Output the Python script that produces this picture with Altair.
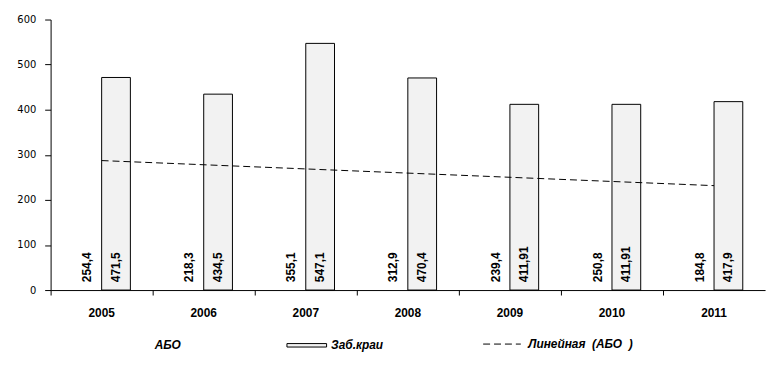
import altair as alt
import pandas as pd

years = [2005, 2006, 2007, 2008, 2009, 2010, 2011]
abo = [254.4, 218.3, 355.1, 312.9, 239.4, 250.8, 184.8]
zab = [471.5, 434.5, 547.1, 470.4, 411.91, 411.91, 417.9]
abo_labels = ["254,4", "218,3", "355,1", "312,9", "239,4", "250,8", "184,8"]
zab_labels = ["471,5", "434,5", "547,1", "470,4", "411,91", "411,91", "417,9"]
series = ["АБО", "Заб.краи"]
trend_name = "Линейная\u00a0 (АБО\u00a0 )"
y_ticks = [0, 100, 200, 300, 400, 500, 600]

rows = []
for i, yr in enumerate(years):
    rows.append({"year": yr, "series": series[0], "value": abo[i], "label": abo_labels[i]})
    rows.append({"year": yr, "series": series[1], "value": zab[i], "label": zab_labels[i]})
df = pd.DataFrame(rows)

x_enc = alt.X(
    "year:O",
    scale=alt.Scale(domain=years, paddingInner=0, paddingOuter=0),
    axis=alt.Axis(
        title=None, labelAngle=0, bandPosition=0, tickSize=5, labelPadding=13,
        labelFont="Liberation Sans", labelFontSize=12, labelFontWeight="bold",
        labelColor="black", domainColor="black", tickColor="black",
    ),
)
xoff = alt.XOffset("series:N", scale=alt.Scale(domain=series, paddingInner=0, paddingOuter=0.776))
y_enc = alt.Y(
    "value:Q",
    scale=alt.Scale(domain=[0, 600], nice=False),
    axis=alt.Axis(
        title=None, values=y_ticks, grid=False, tickSize=6, labelPadding=9,
        labelFont="DejaVu Sans", labelFontSize=10, labelColor="black",
        domainColor="black", tickColor="black",
    ),
)

leg = alt.Legend(
    title=None, orient="none", legendX=60, legendY=308, direction="horizontal",
    symbolType="M-1,-0.0875H1V0.0875H-1Z", symbolSize=1600, symbolStrokeWidth=1,
    labelOffset=4, columnPadding=104,
    labelFont="Liberation Sans", labelFontSize=12, labelFontStyle="italic",
    labelFontWeight="bold", labelColor="black",
)

bars = alt.Chart(df).mark_bar(strokeWidth=1).encode(
    x=x_enc,
    xOffset=xoff,
    y=y_enc,
    fill=alt.Fill("series:N", scale=alt.Scale(domain=series, range=["white", "#f2f2f2"]), legend=leg),
    stroke=alt.Stroke("series:N", scale=alt.Scale(domain=series, range=["transparent", "black"]), legend=leg),
)

labels = alt.Chart(df).mark_text(
    angle=270, align="left", baseline="middle", dx=8,
    font="Liberation Sans", fontSize=12, fontWeight="bold", color="black",
).encode(
    x=x_enc,
    xOffset=xoff,
    y=alt.datum(0),
    text="label:N",
)

trend = alt.Chart(df).transform_filter(
    alt.datum.series == series[0]
).transform_regression(
    "year", "value"
).transform_calculate(
    trend=f"'{trend_name}'"
).mark_line(color="black", strokeWidth=1).encode(
    x=alt.X("year:O"),
    y=alt.Y("value:Q"),
    strokeDash=alt.StrokeDash(
        "trend:N",
        scale=alt.Scale(domain=[trend_name], range=[[7, 4]]),
        legend=alt.Legend(
            title=None, orient="none", legendX=436, legendY=308,
            symbolType="stroke", symbolSize=1444, symbolStrokeWidth=1,
            symbolStrokeColor="black", labelOffset=7,
            labelFont="Liberation Sans", labelFontSize=12, labelFontStyle="italic",
            labelFontWeight="bold", labelColor="black",
        ),
    ),
)

chart = alt.layer(bars, trend, labels).properties(
    width=721,
    height=273,
    autosize=alt.AutoSizeParams(type="none"),
    padding={"left": 43, "top": 10, "right": 8, "bottom": 75},
).configure_view(stroke=None)

chart.save("out.html", embed_options={"renderer": "svg", "actions": False})
